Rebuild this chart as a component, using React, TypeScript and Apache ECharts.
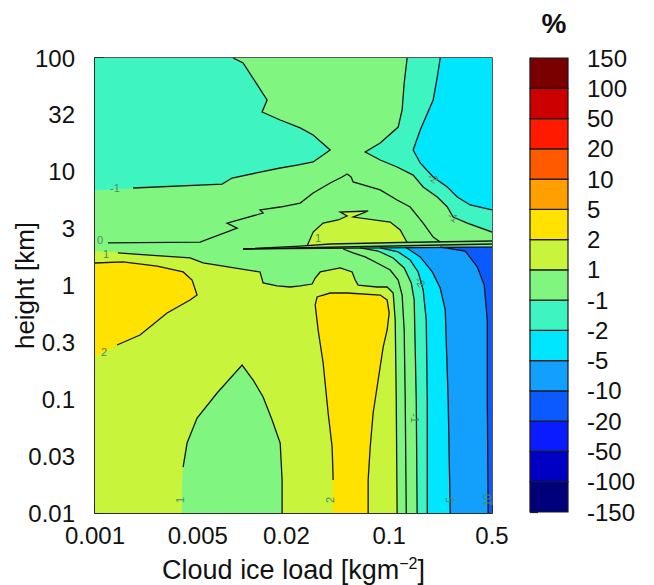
import React, { useEffect, useRef } from 'react';
import * as echarts from 'echarts';

// ---- axes (plot coordinates are log10 of load [kg m^-2] and log10 of height [km]) ----
const xTickLoads = [0.001, 0.002, 0.005, 0.01, 0.02, 0.05, 0.1, 0.2, 0.5];
const xLabelLoads = [0.001, 0.005, 0.02, 0.1, 0.5];
const yTickLabels = ['0.01', '0.03', '0.1', '0.3', '1', '3', '10', '32', '100'];

// ---- colour levels (bottom to top of the colour bar) ----
const levelLabels = ['-150', '-100', '-50', '-20', '-10', '-5', '-2', '-1', '1', '2', '5', '10', '20', '50', '100', '150'];
const levelColors = ['#00007a', '#0000c4', '#0a1cff', '#0a5aff', '#12a0fc', '#00e6ff', '#3ef5c2', '#80f580', '#c8f53c', '#ffe200', '#ffa000', '#ff5a00', '#ff1a00', '#cc0000', '#7a0000'];

// ---- contours: [log10 load, log10 height] ----
const domain = [[-3, -2], [-0.301, -2], [-0.301, 2], [-3, 2]];

const c1Lower = [[-3.0, 0.303], [-2.844, 0.286], [-2.354, 0.242], [-2.265, 0.198], [-1.878, 0.119], [-1.857, 0.022], [-1.762, -0.004], [-1.673, -0.013], [-1.605, -0.004], [-1.524, 0.013], [-1.503, 0.066], [-1.469, 0.119], [-1.333, 0.154], [-1.252, 0.119], [-1.231, 0.048], [-1.211, 0.004], [-1.082, -0.013], [-1.014, -0.013], [-0.973, -0.066], [-0.959, -0.303], [-0.952, -1.007], [-0.946, -2.0]];
const c2Left = [[-3, 0.198], [-2.81, 0.207], [-2.578, 0.171], [-2.401, 0.119], [-2.34, 0.048], [-2.306, -0.084], [-2.354, -0.127], [-2.51, -0.242], [-2.694, -0.435], [-2.85, -0.523], [-3, -0.629]];
const c2Tall = [[-1.381, -2], [-1.381, -1.71], [-1.388, -1.42], [-1.415, -1.121], [-1.449, -0.681], [-1.483, -0.391], [-1.503, -0.171], [-1.49, -0.101], [-1.401, -0.066], [-1.286, -0.066], [-1.061, -0.084], [-1.014, -0.127], [-1.0, -0.242], [-1.014, -0.391], [-1.041, -0.541], [-1.075, -0.831], [-1.109, -1.121], [-1.129, -1.42], [-1.143, -1.71], [-1.143, -2]];
const c1Lobe = [[-2.408, -2], [-2.408, -1.824], [-2.401, -1.596], [-2.374, -1.385], [-2.306, -1.165], [-2.17, -0.945], [-2.0, -0.699], [-1.925, -0.831], [-1.857, -0.98], [-1.796, -1.182], [-1.741, -1.385], [-1.728, -1.71], [-1.728, -2]];
const c0Lower = [[-1.313, 0.321], [-1.245, 0.286], [-1.163, 0.251], [-1.082, 0.198], [-0.993, 0.136], [-0.939, 0.048], [-0.912, -0.084], [-0.898, -0.391], [-0.891, -1.007], [-0.884, -2]];
const cm1Lower = [[-1.197, 0.33], [-1.075, 0.303], [-0.973, 0.242], [-0.898, 0.154], [-0.85, 0.022], [-0.83, -0.127], [-0.823, -0.567], [-0.816, -1.007], [-0.81, -2]];
const cm2Lower = [[-1.061, 0.33], [-0.939, 0.295], [-0.857, 0.224], [-0.803, 0.119], [-0.769, -0.04], [-0.748, -0.303], [-0.741, -1.007], [-0.741, -2]];
const cm5Lower = [[-0.891, 0.338], [-0.789, 0.251], [-0.707, 0.119], [-0.653, -0.022], [-0.619, -0.215], [-0.599, -1.007], [-0.585, -2]];
const cm10Lower = [[-0.653, 0.338], [-0.483, 0.303], [-0.401, 0.163], [-0.354, 0.004], [-0.333, -0.303], [-0.333, -1.007], [-0.327, -2]];

const cm1UpperLeft = [[-2.061, 2], [-1.993, 1.956], [-1.83, 1.631], [-1.864, 1.525], [-1.741, 1.455], [-1.605, 1.385], [-1.517, 1.323], [-1.401, 1.191], [-1.517, 1.086], [-1.626, 1.059], [-1.741, 1.033], [-2.068, 0.945], [-2.136, 0.892], [-2.741, 0.857], [-3, 0.84]];
const cm1UpperRight = [[-0.878, 2], [-0.898, 1.78], [-0.912, 1.543], [-0.939, 1.393], [-1.061, 1.253], [-1.163, 1.174], [-1.061, 1.103], [-0.946, 1.042], [-0.837, 0.971], [-0.769, 0.866], [-0.673, 0.778], [-0.605, 0.69], [-0.565, 0.602], [-0.469, 0.549], [-0.301, 0.47]];
const cm2UpperRight = [[-0.653, 2], [-0.673, 1.833], [-0.701, 1.631], [-0.789, 1.367], [-0.837, 1.191], [-0.789, 1.077], [-0.701, 0.954], [-0.605, 0.866], [-0.537, 0.778], [-0.449, 0.708], [-0.301, 0.664]];
const c0Upper = [[-2.912, 0.374], [-2.286, 0.382], [-2.034, 0.505], [-2.102, 0.549], [-1.857, 0.637], [-1.878, 0.664], [-1.741, 0.69], [-1.605, 0.725], [-1.517, 0.813], [-1.401, 0.901], [-1.32, 0.954], [-1.286, 0.98], [-1.259, 0.954], [-1.245, 0.91], [-1.061, 0.84], [-0.946, 0.752], [-0.857, 0.69], [-0.769, 0.549], [-0.701, 0.426], [-0.653, 0.382]];
const c1Upper = [[-1.558, 0.347], [-1.517, 0.47], [-1.449, 0.549], [-1.347, 0.576], [-1.286, 0.611], [-1.333, 0.646], [-1.143, 0.655], [-1.245, 0.602], [-0.993, 0.558], [-0.925, 0.488], [-0.878, 0.378]];

const ridgeUpper = [[-1.993, 0.321], [-1.605, 0.347], [-1.401, 0.365], [-0.925, 0.378], [-0.301, 0.391]];
const ridgeMiddle = [[-1.993, 0.321], [-0.301, 0.365]];
const ridgeLower = [[-1.993, 0.321], [-0.301, 0.338]];

const contourLabelText = ['-1', '0', '1', '2', '1', '2', '5', '10', '-1', '-2', '-2', '-1', '1'];
const contourLabelPos = [[-2.864, 0.857], [-2.966, 0.4], [-2.925, 0.279], [-2.939, -0.585], [-2.422, -1.886], [-1.401, -1.886], [-0.585, -1.886], [-0.333, -1.886], [-0.823, -1.165], [-0.789, 0.031], [-0.701, 0.945], [-0.565, 0.602], [-1.483, 0.418]];
const contourLabelAngle = [0, 0, 0, 0, 90, 90, 90, 90, -90, -60, -40, -35, 0];

// ---- filled regions, painted in order ----
const rightEdgeBottom = [[-0.301, -2], [-0.301, 0.338]];
const regions = [
  { level: 7, pts: domain },
  { level: 8, pts: [...c1Lower, [-3, -2]] },
  { level: 9, pts: c2Left },
  { level: 9, pts: c2Tall },
  { level: 7, pts: c1Lobe },
  { level: 6, pts: [...cm1Lower, ...rightEdgeBottom] },
  { level: 5, pts: [...cm2Lower, ...rightEdgeBottom] },
  { level: 4, pts: [...cm5Lower, ...rightEdgeBottom] },
  { level: 3, pts: [...cm10Lower, ...rightEdgeBottom] },
  { level: 6, pts: [[-3, 2], ...cm1UpperLeft] },
  { level: 6, pts: [...cm1UpperRight, [-0.301, 2]] },
  { level: 5, pts: [...cm2UpperRight, [-0.301, 2]] },
  { level: 8, pts: c1Upper },
];

const lines = [
  c1Lower.slice(1),
  c2Left.slice(0, -1),
  c2Tall.slice(1),
  c1Lobe.slice(2),
  c0Lower,
  cm1Lower,
  cm2Lower,
  cm5Lower,
  cm10Lower,
  cm1UpperLeft.slice(0, -1),
  cm1UpperRight,
  cm2UpperRight,
  c0Upper,
  c1Upper,
  ridgeUpper,
  ridgeMiddle,
  ridgeLower,
];

const FONT = 'Liberation Sans, Arial, Helvetica, sans-serif';
const X_MAX = Math.log10(0.5);

function nearestLoadLabel(v: number) {
  for (const l of xLabelLoads) if (Math.abs(Math.log10(l) - v) < 1e-6) return String(l);
  return '';
}

export default function App() {
  const ref = useRef<HTMLDivElement>(null);
  useEffect(() => {
    const chart = echarts.init(ref.current!, undefined, { renderer: 'svg' });
    const option: any = {
      animation: false,
      backgroundColor: '#ffffff',
      textStyle: { fontFamily: FONT },
      title: {
        text: '%',
        left: 549,
        top: 4,
        textAlign: 'center',
        textStyle: { fontSize: 28, fontWeight: 'bold', color: '#111', fontFamily: FONT },
      },
      grid: [
        { left: 95, top: 58, width: 397, height: 455, containLabel: false, outerBoundsMode: 'none', show: true, borderColor: '#222', borderWidth: 1.5, backgroundColor: 'transparent' },
        { left: 530, top: 58, width: 38, height: 454, containLabel: false, outerBoundsMode: 'none', show: false },
      ],
      xAxis: [
        {
          gridIndex: 0,
          type: 'value',
          min: -3,
          max: X_MAX,
          name: '{a|Cloud ice load [kgm}{s|−2}{a|]}',
          nameLocation: 'middle',
          nameGap: 42,
          nameMoveOverlap: false,
          nameTextStyle: {
            rich: {
              a: { fontSize: 27, color: '#111', fontFamily: FONT, lineHeight: 30 },
              s: { fontSize: 16, color: '#111', fontFamily: FONT, verticalAlign: 'top', lineHeight: 30 },
            },
          },
          axisLine: { show: true, onZero: false, lineStyle: { color: '#222', width: 1.5 } },
          axisTick: { show: true, inside: true, length: 8, customValues: xTickLoads.map((v) => Math.log10(v)), lineStyle: { color: '#222', width: 1.5 } },
          axisLabel: {
            customValues: xLabelLoads.map((v) => Math.log10(v)),
            formatter: (v: number) => nearestLoadLabel(v),
            fontSize: 24,
            color: '#111',
            fontFamily: FONT,
            margin: 10,
          },
          splitLine: { show: false },
        },
        { gridIndex: 1, type: 'value', min: 0, max: 1, show: false },
      ],
      yAxis: [
        {
          gridIndex: 0,
          type: 'value',
          min: -2,
          max: 2,
          interval: 0.5,
          name: 'height [km]',
          nameLocation: 'middle',
          nameRotate: 90,
          nameGap: 57,
          nameMoveOverlap: false,
          nameTextStyle: { fontSize: 26, color: '#111', fontFamily: FONT },
          axisLine: { show: true, onZero: false, lineStyle: { color: '#222', width: 1.5 } },
          axisTick: { show: true, inside: true, length: 9, lineStyle: { color: '#222', width: 1.5 } },
          axisLabel: {
            formatter: (v: number) => yTickLabels[Math.round((v + 2) * 2)] ?? '',
            fontSize: 24,
            color: '#111',
            fontFamily: FONT,
            margin: 20,
          },
          splitLine: { show: false },
        },
        {
          gridIndex: 1,
          type: 'value',
          min: 0,
          max: 15,
          interval: 1,
          position: 'right',
          axisLine: { show: true, lineStyle: { color: '#222', width: 1.2 } },
          axisTick: { show: true, inside: false, length: 8, lineStyle: { color: '#222', width: 1.2 } },
          axisLabel: {
            formatter: (v: number) => levelLabels[Math.round(v)] ?? '',
            fontSize: 24,
            color: '#111',
            fontFamily: FONT,
            margin: 19,
          },
          splitLine: { show: false },
        },
      ],
      series: [
        {
          type: 'custom',
          xAxisIndex: 0,
          yAxisIndex: 0,
          clip: true,
          silent: true,
          data: regions.map((r) => r.pts[0]),
          renderItem: (params: any, api: any) => {
            const r = regions[params.dataIndex];
            return {
              type: 'polygon',
              shape: { points: r.pts.map((p) => api.coord(p)) },
              style: { fill: levelColors[r.level], stroke: levelColors[r.level], lineWidth: 0.5 },
            };
          },
        },
        {
          type: 'custom',
          xAxisIndex: 0,
          yAxisIndex: 0,
          clip: true,
          silent: true,
          data: lines.map((l) => l[0]),
          renderItem: (params: any, api: any) => {
            const l = lines[params.dataIndex];
            return {
              type: 'polyline',
              shape: { points: l.map((p) => api.coord(p)) },
              style: { fill: 'none', stroke: '#151515', lineWidth: 1.3 },
            };
          },
        },
        {
          type: 'custom',
          xAxisIndex: 0,
          yAxisIndex: 0,
          silent: true,
          data: contourLabelPos,
          renderItem: (params: any, api: any) => {
            const i = params.dataIndex;
            const c = api.coord(contourLabelPos[i]);
            return {
              type: 'text',
              x: c[0],
              y: c[1],
              rotation: (contourLabelAngle[i] * Math.PI) / 180,
              style: {
                text: contourLabelText[i],
                fill: '#4f8a66',
                fontSize: 11,
                fontFamily: FONT,
                align: 'center',
                verticalAlign: 'middle',
              },
            };
          },
        },
        {
          type: 'custom',
          xAxisIndex: 1,
          yAxisIndex: 1,
          silent: true,
          data: levelColors.map((_, i) => [0.5, i + 0.5]),
          renderItem: (params: any, api: any) => {
            const i = params.dataIndex;
            const p0 = api.coord([0, i]);
            const p1 = api.coord([1, i + 1]);
            return {
              type: 'rect',
              shape: { x: p0[0], y: p1[1], width: p1[0] - p0[0], height: p0[1] - p1[1] },
              style: { fill: levelColors[i], stroke: '#1a1a1a', lineWidth: 1.2 },
            };
          },
        },
      ],
    };
    chart.setOption(option);
    return () => chart.dispose();
  }, []);
  return (
    <div
      ref={ref}
      style={{ position: 'fixed', left: 0, top: 0, width: 654, height: 585, background: '#ffffff' }}
    />
  );
}
